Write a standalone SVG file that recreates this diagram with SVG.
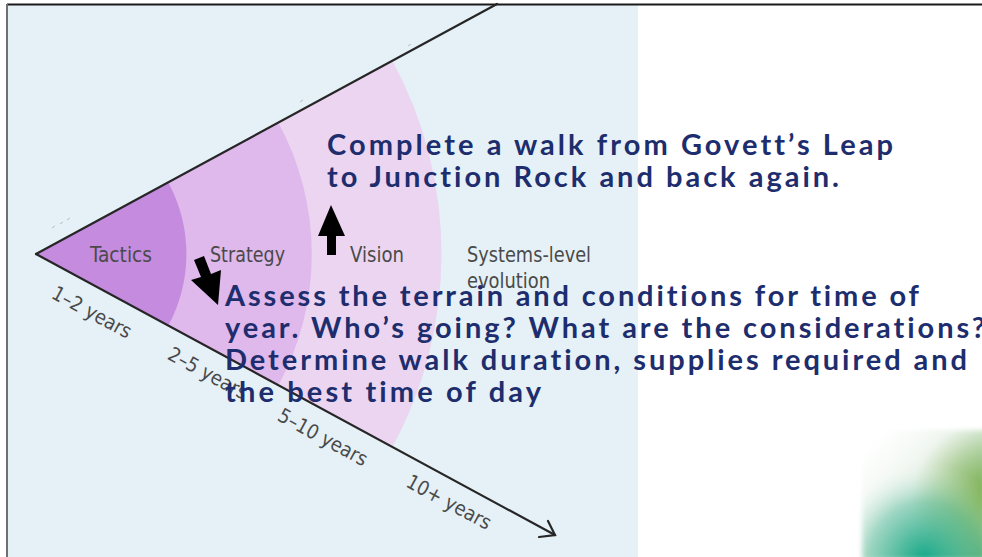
<svg xmlns="http://www.w3.org/2000/svg" width="982" height="557" viewBox="0 0 982 557">
<style>
.lbl{font-family:"Liberation Sans Narrow","DejaVu Sans Condensed","Roboto",sans-serif;font-size:21px;fill:#4a4a4a}
.yr{font-family:"Liberation Sans Narrow","DejaVu Sans Condensed","Roboto",sans-serif;font-size:20px;fill:#4a4a4a;text-anchor:middle}
.blue{font-family:"Lato","Open Sans",sans-serif;font-weight:700;font-size:29px;fill:#1d2d6d;font-variant-ligatures:none;font-feature-settings:"liga" 0,"dlig" 0}
.axis{stroke:#262626;stroke-width:2.2;fill:none;stroke-linecap:round}
</style>
<defs>
<linearGradient id="gg" x1="0" y1="0" x2="1" y2="1">
<stop offset="0" stop-color="#ffffff" stop-opacity="0"/>
<stop offset="0.45" stop-color="#cfe3d0" stop-opacity="0.6"/>
<stop offset="1" stop-color="#3a9f5a"/>
</linearGradient>
<radialGradient id="gt" cx="0.5" cy="1" r="0.75">
<stop offset="0" stop-color="#12a888"/>
<stop offset="0.6" stop-color="#5fc0a6" stop-opacity="0.5"/>
<stop offset="1" stop-color="#ffffff" stop-opacity="0"/>
</radialGradient>
<radialGradient id="go" cx="1" cy="0.55" r="0.6">
<stop offset="0" stop-color="#79ad45"/>
<stop offset="1" stop-color="#79ad45" stop-opacity="0"/>
</radialGradient>
<filter id="soft" x="-0.1" y="-0.1" width="1.2" height="1.2"><feGaussianBlur stdDeviation="2.5"/></filter>
</defs>
<rect width="982" height="557" fill="#ffffff"/>
<rect x="7" y="4" width="631" height="553" fill="#e5f1f6"/>
<line x1="7" y1="4.5" x2="982" y2="4.5" stroke="#1a1a1a" stroke-width="2"/>
<line x1="7" y1="4" x2="7" y2="557" stroke="#707070" stroke-width="2"/>
<g id="bands">
<path d="M36,254 L392,60 A405,405 0 0 1 392,448 Z" fill="#ebd5f1"/>
<path d="M36,254 L278,122 A275,275 0 0 1 278,386 Z" fill="#dfb8ec"/>
<path d="M36,254 L168,182 A150,150 0 0 1 168,326 Z" fill="#c48bdf"/>
</g>
<g id="ticks" stroke="#9a9a9a" stroke-width="1" opacity="0.6">
<line x1="52" y1="228" x2="55" y2="226"/><line x1="60" y1="224" x2="63" y2="222"/><line x1="67" y1="220" x2="70" y2="218"/>
<line x1="300" y1="102" x2="303" y2="100"/><line x1="408" y1="46" x2="411" y2="44"/>
</g>
<g id="connectors">
<path class="axis" d="M36,254 L497,4"/>
<path class="axis" d="M36,254 L555,535"/>
<path class="axis" d="M548,521 L555,535 L539,537"/>
</g>
<g id="tactics"><text class="lbl" x="90" y="262" textLength="62" lengthAdjust="spacingAndGlyphs">Tactics</text></g>
<g id="strategy"><text class="lbl" x="210" y="262" textLength="75" lengthAdjust="spacingAndGlyphs">Strategy</text></g>
<g id="vision"><text class="lbl" x="350" y="262" textLength="54" lengthAdjust="spacingAndGlyphs">Vision</text></g>
<g id="systems">
<text class="lbl" x="467" y="262" textLength="124" lengthAdjust="spacingAndGlyphs">Systems-level</text>
<text class="lbl" x="467" y="288" textLength="83" lengthAdjust="spacingAndGlyphs">evolution</text>
</g>
<g id="years">
<text class="yr" transform="translate(92,312) rotate(28.4)" x="0" y="7">1–2 years</text>
<text class="yr" transform="translate(208,373) rotate(28.4)" x="0" y="7">2–5 years</text>
<text class="yr" transform="translate(323,437) rotate(28.4)" x="0" y="7">5–10 years</text>
<text class="yr" transform="translate(449,502) rotate(28.4)" x="0" y="7">10+ years</text>
</g>
<g id="arrow-up"><polygon points="327,255 336,255 336,236 345,236 331,205 318,236 327,236" fill="#000"/></g>
<g id="arrow-down"><polygon points="194,260 204,256 211,274 221,270 218,305 191,280 201,277" fill="#000"/></g>
<g id="goal">
<text class="blue" x="327" y="155" textLength="566" lengthAdjust="spacing">Complete a walk from Govett’s Leap</text>
<text class="blue" x="327" y="187" textLength="512" lengthAdjust="spacing">to Junction Rock and back again.</text>
</g>
<g id="plan">
<text class="blue" x="225" y="306" textLength="694" lengthAdjust="spacing">Assess the terrain and conditions for time of</text>
<text class="blue" x="225" y="338" textLength="760" lengthAdjust="spacing">year. Who’s going? What are the considerations?</text>
<text class="blue" x="225" y="370" textLength="742" lengthAdjust="spacing">Determine walk duration, supplies required and</text>
<text class="blue" x="225" y="402" textLength="316" lengthAdjust="spacing">the best time of day</text>
</g>
<g id="corner" filter="url(#soft)">
<rect x="862" y="430" width="124" height="130" fill="url(#gg)"/>
<rect x="862" y="430" width="124" height="130" fill="url(#go)"/>
<rect x="862" y="430" width="124" height="130" fill="url(#gt)"/>
</g>
</svg>
